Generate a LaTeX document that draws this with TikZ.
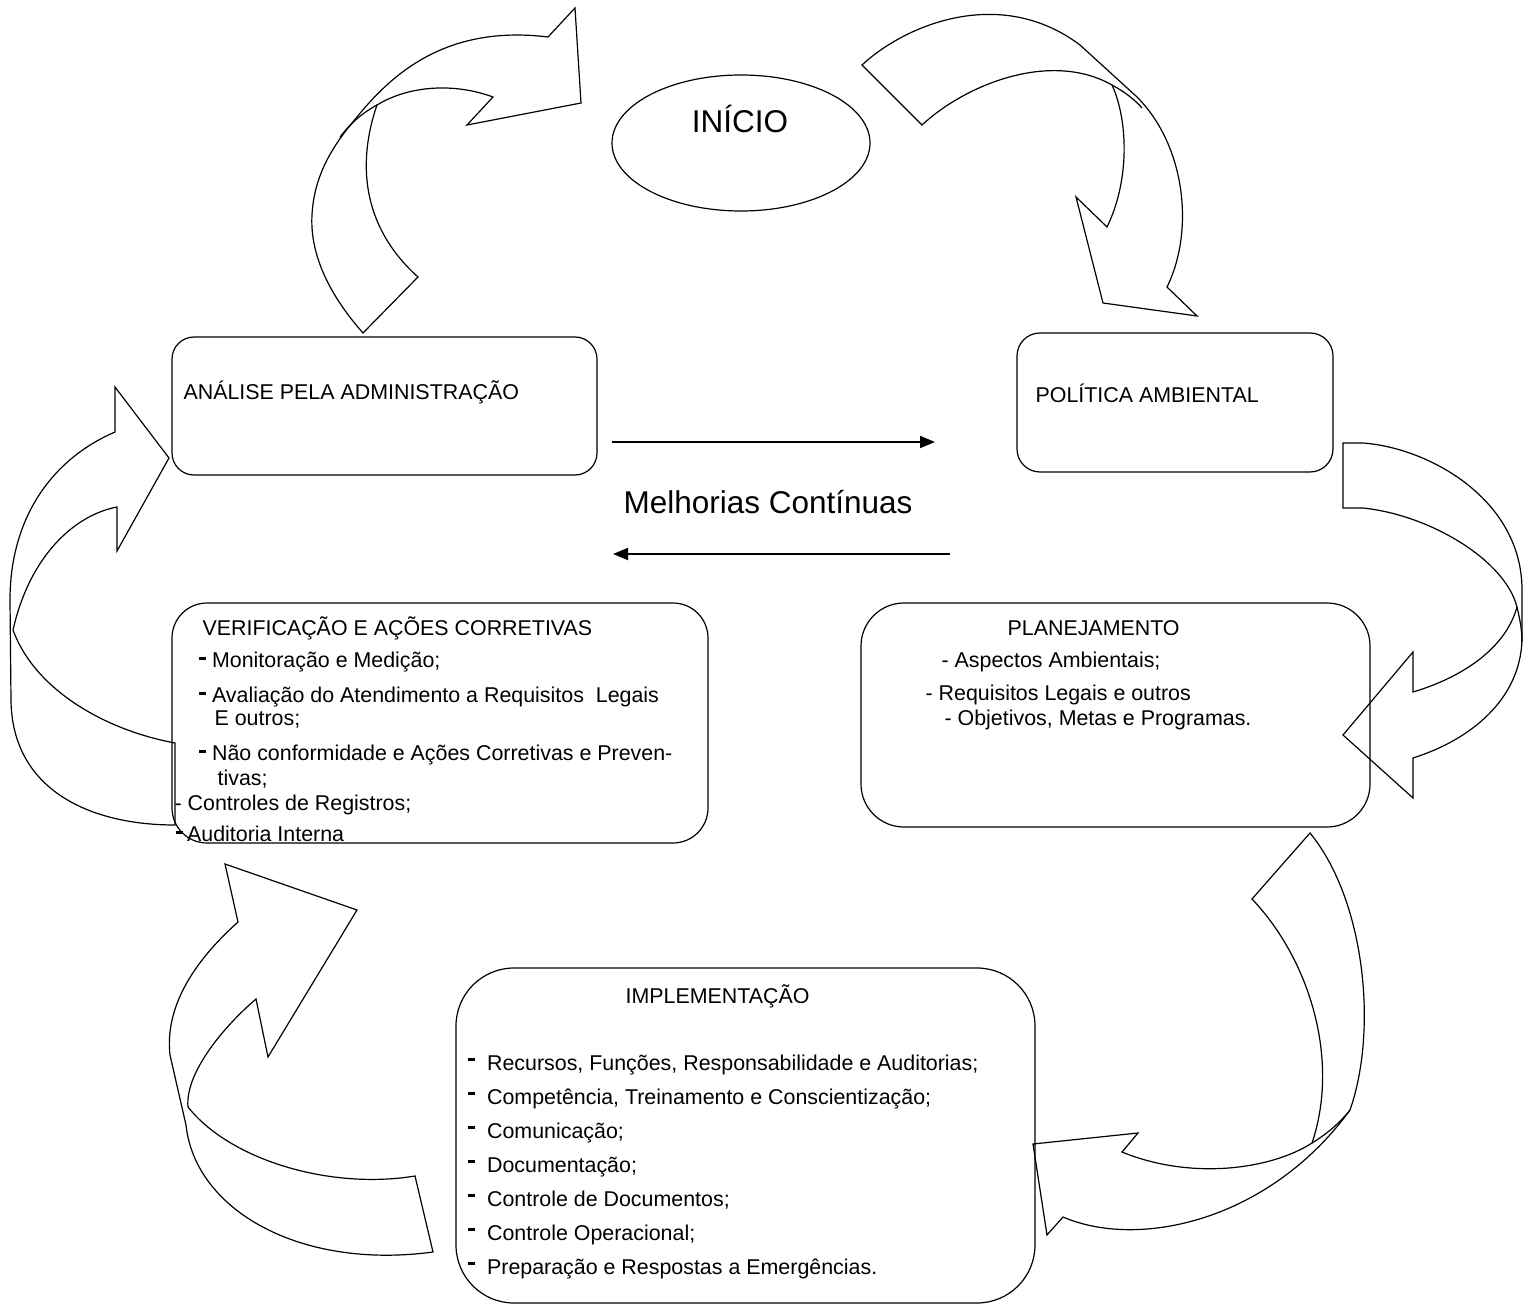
\documentclass[tikz,border=0pt]{standalone}
\usepackage{fontspec}
\setmainfont{Liberation Sans}
\usetikzlibrary{arrows.meta,shapes.geometric}
\newcommand\bdash{\rule[9.5pt]{7.5pt}{2.2pt}}
\newcommand\verdash{\rule[7.5pt]{7.5pt}{2.2pt}}
\begin{document}
\begin{tikzpicture}[x=1pt,y=-1pt,line width=1.2pt,
  boxs/.style={draw,inner sep=0pt},
  txt/.style={anchor=base west,inner sep=0pt,font=\fontsize{21.4}{25}\selectfont},
  bigtxt/.style={anchor=base,inner sep=0pt,font=\fontsize{31.5}{37}\selectfont},
  flowarrow/.style={-{Triangle[length=15pt,width=12pt]},line width=1.8pt},
  carrow/.style={line width=1.2pt,line join=miter}]
\useasboundingbox (0,0) rectangle (1529,1305);

% boxes
\node[boxs,ellipse,minimum width=258pt,minimum height=136pt] (ini) at (741,143) {};
\node[boxs,rounded corners=22pt,minimum width=425pt,minimum height=138pt] (ana) at (384.5,406) {};
\node[boxs,rounded corners=23pt,minimum width=316pt,minimum height=139pt] (pol) at (1175,402.5) {};
\node[boxs,rounded corners=35pt,minimum width=536pt,minimum height=240pt] (ver) at (440,723) {};
\node[boxs,rounded corners=43pt,minimum width=509pt,minimum height=224pt] (pla) at (1115.5,715) {};
\node[boxs,rounded corners=58pt,minimum width=579pt,minimum height=335pt] (imp) at (745.5,1135.5) {};

% texts
\node[bigtxt] (tini) at (740,133) {INÍCIO};
\node[bigtxt] (tmel) at (768,513) {Melhorias Contínuas};
\node[txt] (tana) at (183,400) {ANÁLISE PELA ADMINISTRAÇÃO};
\node[txt] (tpol) at (1035,403) {POLÍTICA AMBIENTAL};

\node[txt] (v0) at (202,635) {VERIFICAÇÃO E AÇÕES CORRETIVAS};
\node[txt] (v1) at (198,667) {\verdash\hspace{6pt}Monitoração e Medição;};
\node[txt] (v2) at (198,702) {\verdash\hspace{6pt}Avaliação do Atendimento a Requisitos\ \ Legais};
\node[txt] (v3) at (214,725) {E outros;};
\node[txt] (v4) at (198,760) {\verdash\hspace{6pt}Não conformidade e Ações Corretivas e Preven-};
\node[txt] (v5) at (217,785) {tivas;};
\node[txt] (v6) at (174,810) {- Controles de Registros;};
\node[txt] (v7) at (175,841) {\verdash\hspace{4pt}Auditoria Interna};

\node[txt] (p0) at (1007,635) {PLANEJAMENTO};
\node[txt] (p1) at (941,667) {- Aspectos Ambientais;};
\node[txt] (p2) at (925,700) {- Requisitos Legais e outros};
\node[txt] (p3) at (944,725) {- Objetivos, Metas e Programas.};

\node[txt] (i0) at (625,1003) {IMPLEMENTAÇÃO};
\node[txt] (i1) at (467,1070) {\bdash\hspace{12pt}Recursos, Funções, Responsabilidade e Auditorias;};
\node[txt] (i2) at (467,1104) {\bdash\hspace{12pt}Competência, Treinamento e Conscientização;};
\node[txt] (i3) at (467,1138) {\bdash\hspace{12pt}Comunicação;};
\node[txt] (i4) at (467,1172) {\bdash\hspace{12pt}Documentação;};
\node[txt] (i5) at (467,1206) {\bdash\hspace{12pt}Controle de Documentos;};
\node[txt] (i6) at (467,1240) {\bdash\hspace{12pt}Controle Operacional;};
\node[txt] (i7) at (467,1274) {\bdash\hspace{12pt}Preparação e Respostas a Emergências.};

% straight arrows
\coordinate (ra) at (612,442);
\coordinate (rb) at (935,442);
\coordinate (la) at (950,554);
\coordinate (lb) at (613,554);
\draw[flowarrow] (ra) -- (rb);
\draw[flowarrow] (la) -- (lb);

% curved arrow 1 (top left)
\draw[carrow] (363,333) .. controls (325,290) and (310,250) .. (312,215)
  .. controls (314,175) and (333,145) .. (357,117)
  .. controls (395,70) and (450,25) .. (548,37)
  -- (575,8) -- (581,103) -- (467,125) -- (493,97)
  .. controls (455,83) and (410,85) .. (377,105)
  .. controls (358,160) and (360,225) .. (418,277) -- cycle;
\draw[carrow] (377,105) .. controls (362,113) and (350,124) .. (340,137);

% curved arrow 2 (top right)
\draw[carrow] (922,125) -- (862,65) .. controls (905,25) and (1000,-15) .. (1080,45) -- (1137,97)
  .. controls (1185,145) and (1195,230) .. (1167,287)
  -- (1197,316) -- (1103,303) -- (1076,197) -- (1107,227)
  .. controls (1130,180) and (1128,120) .. (1112,85)
  .. controls (1050,50) and (965,85) .. (922,125) -- cycle;
\draw[carrow] (1112,85) .. controls (1125,92) and (1135,100) .. (1142,108);

% curved arrow 3 (right)
\draw[carrow] (1343,508) -- (1343,443) -- (1363,443)
  .. controls (1430,448) and (1522,500) .. (1522,590) -- (1522,640)
  .. controls (1520,700) and (1470,740) .. (1413,758)
  -- (1413,798) -- (1343,735) -- (1413,652) -- (1413,692)
  .. controls (1460,678) and (1505,650) .. (1517,607)
  .. controls (1505,560) and (1430,515) .. (1363,508) -- cycle;
\draw[carrow] (1517,607) .. controls (1520,620) and (1522,630) .. (1522,642);

% curved arrow 4 (bottom right)
\draw[carrow] (1310,833) -- (1252,899)
  .. controls (1310,960) and (1340,1060) .. (1312,1143)
  .. controls (1270,1170) and (1190,1180) .. (1122,1152)
  -- (1138,1133) -- (1033,1144) -- (1047,1235) -- (1063,1217)
  .. controls (1140,1250) and (1270,1220) .. (1350,1110)
  .. controls (1378,1030) and (1365,900) .. (1310,833) -- cycle;
\draw[carrow] (1312,1143) .. controls (1325,1135) and (1338,1125) .. (1350,1110);

% curved arrow 5 (bottom left)
\draw[carrow] (433,1252) -- (415,1176)
  .. controls (330,1190) and (230,1160) .. (188,1107)
  .. controls (185,1075) and (220,1030) .. (256,999)
  -- (268,1057) -- (357,910) -- (225,864) -- (238,922)
  .. controls (190,965) and (165,1010) .. (170,1055) -- (186,1125)
  .. controls (195,1210) and (300,1270) .. (433,1252) -- cycle;

% curved arrow 6 (left)
\draw[carrow] (175,825) -- (175,743)
  .. controls (105,730) and (35,690) .. (13,630)
  .. controls (30,555) and (75,515) .. (117,507)
  -- (117,551) -- (169,458) -- (115,387) -- (115,432)
  .. controls (50,460) and (10,520) .. (10,600) -- (11,700)
  .. controls (12,790) and (90,825) .. (175,825) -- cycle;
\end{tikzpicture}
\end{document}
